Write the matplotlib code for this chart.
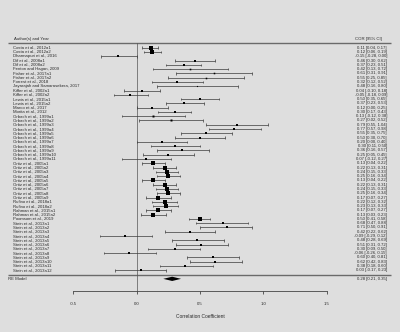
import numpy as np
import matplotlib
matplotlib.use("Agg")
import matplotlib.pyplot as plt

# study labels, estimates and 95% CI bounds (top to bottom)
studies = (
    ["Costa et al., 2012a1", "Costa et al., 2012a2", "Dharmapuri et al., 2016",
     "Dif et al., 2008a1", "Dif et al., 2008a2", "Fenton and Hagan, 2009",
     "Fisher et al., 2017a1", "Fisher et al., 2017a2", "Forrest et al., 2018",
     "Jayarajah and Samarasekera, 2017", "Kiffer et al., 2002a1", "Kiffer et al., 2002a2",
     "Lewis et al., 2015a1", "Lewis et al., 2015a2", "Marco et al., 2017", "Morita et al., 2012"]
    + [f"Orbach et al., 1999a{i}" for i in range(1, 12)]
    + [f"Ortiz et al., 2005a{i}" for i in range(1, 10)]
    + ["Rufino et al., 2018a1", "Rufino et al., 2018a2",
       "Rahman et al., 2015a1", "Rahman et al., 2015a2", "Poomsom et al., 2019"]
    + [f"Stein et al., 2013a{i}" for i in range(1, 13)]
)

est = [0.11, 0.12, -0.15, 0.46, 0.37, 0.42, 0.61, 0.55, 0.32, 0.48,
       0.04, -0.05, 0.50, 0.37, 0.12, 0.30, 0.13, 0.27, 0.79, 0.77,
       0.55, 0.50, 0.20, 0.30, 0.36, 0.25, 0.07, 0.13, 0.22, 0.24,
       0.25, 0.13, 0.22, 0.24, 0.25, 0.17, 0.22, 0.23, 0.17, 0.13,
       0.50, 0.68, 0.71, 0.42, -0.09, 0.48, 0.51, 0.30, -0.06, 0.60,
       0.62, 0.38, 0.03]
ci_lo = [0.04, 0.06, -0.28, 0.30, 0.23, 0.13, 0.31, 0.25, 0.12, 0.16,
         -0.10, -0.18, 0.35, 0.23, 0.00, 0.17, -0.12, 0.02, 0.55, 0.57,
         0.35, 0.30, 0.00, 0.11, 0.16, 0.05, -0.12, 0.04, 0.13, 0.15,
         0.16, 0.04, 0.13, 0.15, 0.16, 0.07, 0.12, 0.13, 0.07, 0.03,
         0.41, 0.47, 0.50, 0.22, -0.29, 0.28, 0.31, 0.09, -0.26, 0.40,
         0.42, 0.18, -0.17]
ci_hi = [0.17, 0.19, 0.00, 0.62, 0.51, 0.72, 0.91, 0.85, 0.52, 0.80,
         0.18, 0.09, 0.65, 0.53, 0.25, 0.43, 0.38, 0.52, 1.04, 0.98,
         0.75, 0.70, 0.40, 0.50, 0.57, 0.45, 0.27, 0.22, 0.31, 0.33,
         0.34, 0.22, 0.31, 0.33, 0.34, 0.27, 0.32, 0.33, 0.27, 0.23,
         0.58, 0.88, 0.91, 0.62, 0.12, 0.69, 0.72, 0.50, 0.15, 0.81,
         0.83, 0.60, 0.23]

re_est, re_lo, re_hi = 0.28, 0.21, 0.35
x_ticks = [-0.5, 0.0, 0.5, 1.0, 1.5]

BG = "#dedede"
INK = "#2a2a2a"
FONT = ["Liberation Sans", "DejaVu Sans"]
FS = 3.1

n = len(studies)
rows = np.arange(n, 0, -1)

fig = plt.figure(figsize=(4.0, 3.32), dpi=100, facecolor=BG)
ax = fig.add_axes([0, 0, 1, 1], facecolor=BG)
ax.set_xlim(-1.081, 2.081)
ax.set_ylim(-13.42, 64.15)
for s in ["top", "left", "right"]:
    ax.spines[s].set_visible(False)
ax.set_yticks([])

# x axis drawn as an R-style axis below the summary row
ax.spines["bottom"].set_position(("data", -3.85))
ax.spines["bottom"].set_bounds(x_ticks[0], x_ticks[-1])
ax.spines["bottom"].set_color("#444444")
ax.spines["bottom"].set_linewidth(0.6)
ax.set_xticks(x_ticks)
ax.set_xticklabels([f"{t:.1f}" for t in x_ticks], fontsize=FS, family=FONT, color=INK)
ax.tick_params(axis="x", direction="out", length=2.2, width=0.6, color="#444444", pad=5.5)
ax.text(0.5, -9.7, "Correlation Coefficient", ha="center", va="center",
        fontsize=FS + 0.4, family=FONT, color=INK)

# header and separating lines
ax.plot([-1.017, 2.01], [n + 1.2, n + 1.2], color="#6a6a6a", lw=1.0, solid_capstyle="butt")
ax.plot([-1.017, 2.01], [-0.15, -0.15], color="#6a6a6a", lw=1.0, solid_capstyle="butt")
ax.text(-0.97, n + 2, "Author(s) and Year", ha="left", va="center", fontsize=FS, family=FONT, color=INK)
ax.text(1.94, n + 2, "COR [95% CI]", ha="right", va="center", fontsize=FS, family=FONT, color=INK)

# reference line at zero
ax.plot([0, 0], [-3.85, n + 1.2], color="#555555", lw=0.5)

est_a = np.array(est)
lo_a = np.array(ci_lo)
hi_a = np.array(ci_hi)

# confidence intervals with end ticks
ax.hlines(rows, lo_a, hi_a, color="#3a3a3a", lw=0.5)
ax.vlines(lo_a, rows - 0.3, rows + 0.3, color="#3a3a3a", lw=0.5)
ax.vlines(hi_a, rows - 0.3, rows + 0.3, color="#3a3a3a", lw=0.5)

# square size grows with precision (narrower interval -> bigger box)
w = np.log(1.0 / (hi_a - lo_a))
frac = (w - w.min()) / (w.max() - w.min())
sz = 0.8 + 1.6 * np.sqrt(frac)
for r, e, s in zip(rows, est_a, sz):
    ax.plot(e, r, marker="s", ms=s, color="black", mec="black", mew=0)

for r, name, e, lo, hi in zip(rows, studies, est, ci_lo, ci_hi):
    ax.text(-0.98, r, name, ha="left", va="center", fontsize=FS, family=FONT, color=INK)
    ax.text(1.979, r, f"{e:.2f} [{lo:.2f}, {hi:.2f}]", ha="right", va="center",
            fontsize=FS, family=FONT, color=INK)

# random-effects summary diamond
ax.fill([re_lo, re_est, re_hi, re_est], [-1, -0.5, -1, -1.5], color="black", lw=0)
ax.text(-1.015, -1, "RE Model", ha="left", va="center", fontsize=FS, family=FONT, color=INK)
ax.text(1.979, -1, f"{re_est:.2f} [{re_lo:.2f}, {re_hi:.2f}]", ha="right", va="center",
        fontsize=FS, family=FONT, color=INK)

fig.savefig("out.png", dpi=100, facecolor=BG)
